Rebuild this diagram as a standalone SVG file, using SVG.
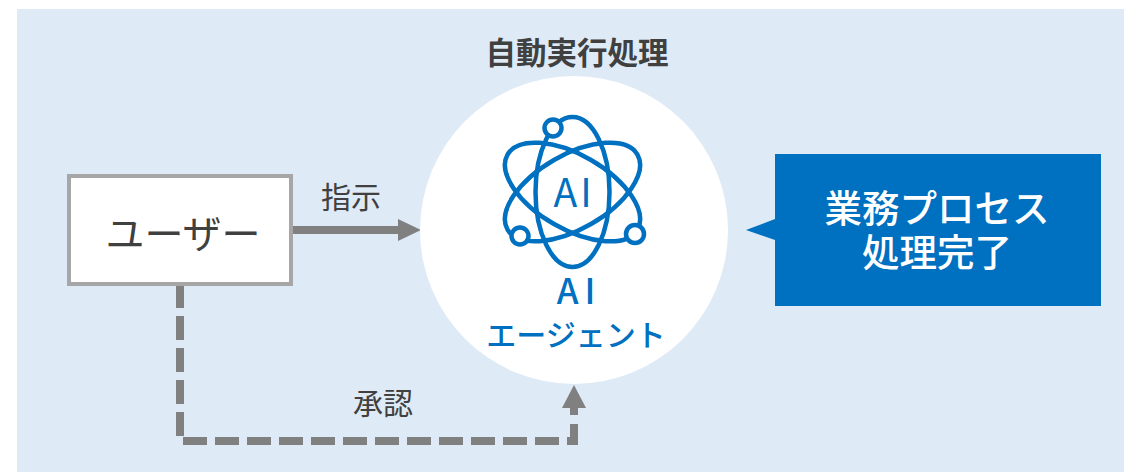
<svg xmlns="http://www.w3.org/2000/svg" width="1124" height="472" viewBox="0 0 1124 472">
<style>
text{font-family:"Noto Sans CJK JP","Noto Sans",sans-serif;text-anchor:middle}
.dark{fill:#404040}
.blue{fill:#0070c0}
.w{fill:#fff}
.orb{fill:none;stroke:#0070c0;stroke-width:4.5}
.node{fill:#fff;stroke:#0070c0;stroke-width:4.5}
.conn{fill:none;stroke:#808080;stroke-width:8}
.head{fill:#808080}
</style>
<rect width="1124" height="472" fill="#fff"/>
<rect x="17" y="9" width="1107" height="463" fill="#deeaf6"/>
<g id="connectors">
<path class="conn" d="M293 230H400"/>
<path class="head" d="M398 219L421 230L398 241Z"/>
<path class="conn" d="M180 286V308M180 316V340M180 348V372M180 380V404M180 412V436"/>
<path class="conn" d="M183 441H207M215 441H239M247 441H271M279 441H303M311 441H335M343 441H367M375 441H399M407 441H431M439 441H463M471 441H495M503 441H527M535 441H559M567 441H578M574 445V424M574 415V406"/>
<path class="head" d="M574 385L586 408H562Z"/>
</g>
<g id="label-shiji"><text class="dark" x="351" y="208" font-size="30">指示</text></g>
<g id="label-shonin"><text class="dark" x="383" y="414" font-size="30">承認</text></g>
<g id="user"><rect x="69" y="176" width="222" height="108" fill="#fff" stroke="#a6a6a6" stroke-width="4"/><text class="dark" x="183" y="248" font-size="39">ユーザー</text></g>
<g id="agent">
<circle cx="574" cy="230" r="154" fill="#fff"/>
<ellipse class="orb" cx="572.500" cy="192" rx="37" ry="75"/>
<ellipse class="orb" cx="572.500" cy="192" rx="37" ry="75" transform="rotate(60 572.500 192)"/>
<ellipse class="orb" cx="572.500" cy="192" rx="37" ry="75" transform="rotate(-60 572.500 192)"/>
<circle class="node" cx="553" cy="128" r="8.500"/>
<circle class="node" cx="520" cy="236" r="8.500"/>
<circle class="node" cx="635" cy="234" r="9"/>
<text class="blue" x="574" y="207" font-size="39" letter-spacing="3">AI</text>
<text class="blue" x="579" y="304" font-size="35" font-weight="500" letter-spacing="6">AI</text>
<text class="blue" x="576" y="346" font-size="30" font-weight="500">エージェント</text>
</g>
<g id="title"><text class="dark" x="577" y="64" font-size="30.500" font-weight="700">自動実行処理</text></g>
<g id="result">
<path class="blue" d="M775 154H1101V306H775V240L746 230L775 219Z"/>
<text class="w" font-size="37.500" font-weight="500"><tspan x="937" y="222">業務プロセス</tspan><tspan x="937" y="266">処理完了</tspan></text>
</g>
</svg>
